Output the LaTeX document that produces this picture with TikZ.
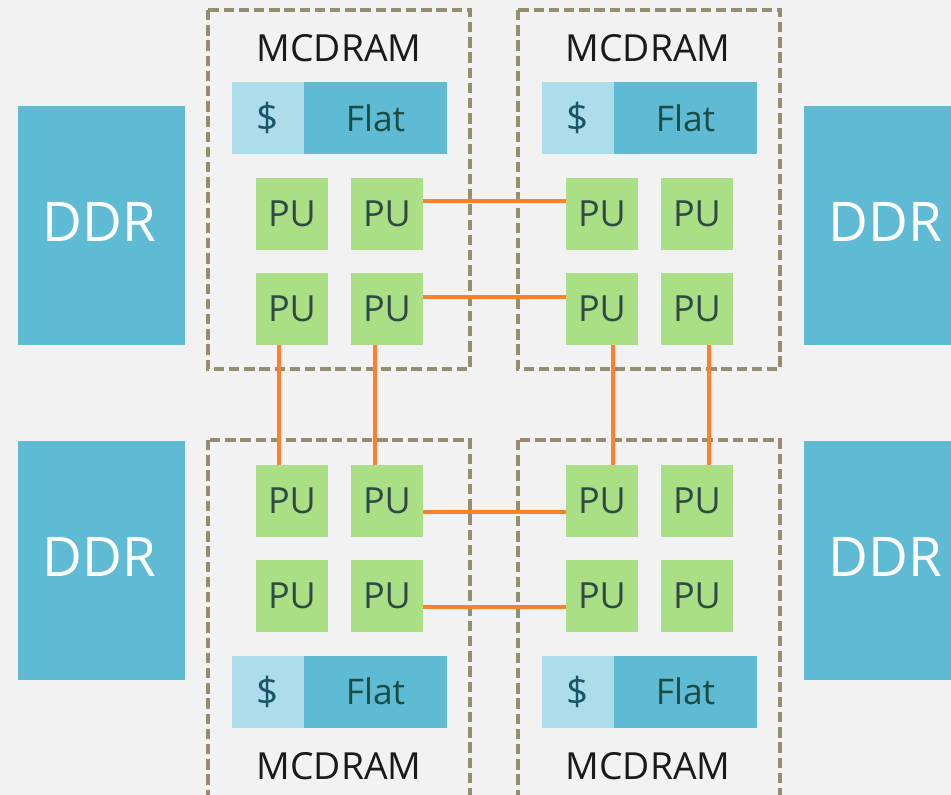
\documentclass[tikz,border=0pt]{standalone}
\usepackage{fontspec}
\setmainfont{Open Sans}
\usetikzlibrary{calc}
\definecolor{bg}{HTML}{F2F2F2}
\definecolor{ddrblue}{HTML}{5FBAD3}
\definecolor{cachelight}{HTML}{ADDCEA}
\definecolor{pugreen}{HTML}{AADF86}
\definecolor{dashol}{HTML}{958D70}
\definecolor{linkor}{HTML}{FF7F2A}
\definecolor{mctext}{HTML}{1A1A1A}
\definecolor{putext}{HTML}{2F4A44}
\definecolor{flattext}{HTML}{1B4D44}
\definecolor{dollartext}{HTML}{1B5566}
\tikzset{
  ddrbox/.style={fill=ddrblue, minimum width=125.25pt, minimum height=179.25pt, inner sep=0pt},
  ddrlabel/.style={text=white, inner sep=0pt, font=\fontsize{41}{45}\selectfont},
  pubox/.style={fill=pugreen, minimum width=54pt, minimum height=54pt, inner sep=0pt, text=putext, font=\fontsize{27}{30}\selectfont},
  cachebox/.style={fill=cachelight, minimum width=54pt, minimum height=54pt, inner sep=0pt, text=dollartext, font=\fontsize{29}{32}\selectfont},
  flatbox/.style={fill=ddrblue, minimum width=107.25pt, minimum height=54pt, inner sep=0pt, text=flattext, font=\fontsize{26.5}{30}\selectfont},
  mclabel/.style={text=mctext, inner sep=0pt, font=\fontsize{28}{32}\selectfont},
  tilebox/.style={draw=dashol, line width=3.6pt, dash pattern=on 7.8pt off 3.6pt},
  link/.style={draw=linkor, line width=3pt}
}
\begin{document}
\begin{tikzpicture}[x=0.75pt,y=-0.75pt]
\useasboundingbox (0,0) rectangle (951,795);
\clip (0,0) rectangle (951,795);
\fill[bg] (0,0) rectangle (951,795);

% tile outlines
\draw[tilebox] (208,10) rectangle (470,369);
\draw[tilebox] (518,10) rectangle (780,369);
\draw[tilebox] (208,440) rectangle (470,815);
\draw[tilebox] (518,440) rectangle (780,815);

% DDR
\node[ddrbox] (ddrtl) at (101.5,225.5) {};
\node[ddrbox] (ddrbl) at (101.5,560.5) {};
\node[ddrbox] (ddrtr) at (887.5,225.5) {};
\node[ddrbox] (ddrbr) at (887.5,560.5) {};
\node[ddrlabel] (ddrtltext) at ($(ddrtl.center)+(-2,-4)$) {DDR};
\node[ddrlabel] (ddrbltext) at ($(ddrbl.center)+(-2,-4)$) {DDR};
\node[ddrlabel] (ddrtrtext) at ($(ddrtr.center)+(-2,-4)$) {DDR};
\node[ddrlabel] (ddrbrtext) at ($(ddrbr.center)+(-2,-4)$) {DDR};

% MCDRAM labels
\node[mclabel] (mctl) at (339,48) {MCDRAM};
\node[mclabel] (mctr) at (648,48) {MCDRAM};
\node[mclabel] (mcbl) at (339,766) {MCDRAM};
\node[mclabel] (mcbr) at (648,766) {MCDRAM};

% cache / flat bars
\node[cachebox] (ctl) at (268,118) {\$};
\node[flatbox] (ftl) at (375.5,118) {Flat};
\node[cachebox] (ctr) at (578,118) {\$};
\node[flatbox] (ftr) at (685.5,118) {Flat};
\node[cachebox] (cbl) at (268,691.5) {\$};
\node[flatbox] (fbl) at (375.5,691.5) {Flat};
\node[cachebox] (cbr) at (578,691.5) {\$};
\node[flatbox] (fbr) at (685.5,691.5) {Flat};

% PUs
\foreach \c/\x in {1/292,2/387,3/602,4/697}{
  \foreach \r/\y in {1/214,2/309,3/501,4/596}{
    \node[pubox] (pu\r\c) at (\x,\y) {PU};
  }
}

% links
\draw[link] ($(pu12.east)+(0,-13)$) -- ($(pu13.west)+(0,-13)$);
\draw[link] ($(pu22.east)+(0,-12)$) -- ($(pu23.west)+(0,-12)$);
\draw[link] ($(pu32.east)+(0,11)$) -- ($(pu33.west)+(0,11)$);
\draw[link] ($(pu42.east)+(0,11)$) -- ($(pu43.west)+(0,11)$);
\draw[link] ($(pu21.south)+(-13,0)$) -- ($(pu31.north)+(-13,0)$);
\draw[link] ($(pu22.south)+(-12,0)$) -- ($(pu32.north)+(-12,0)$);
\draw[link] ($(pu23.south)+(11,0)$) -- ($(pu33.north)+(11,0)$);
\draw[link] ($(pu24.south)+(12,0)$) -- ($(pu34.north)+(12,0)$);
\end{tikzpicture}
\end{document}
